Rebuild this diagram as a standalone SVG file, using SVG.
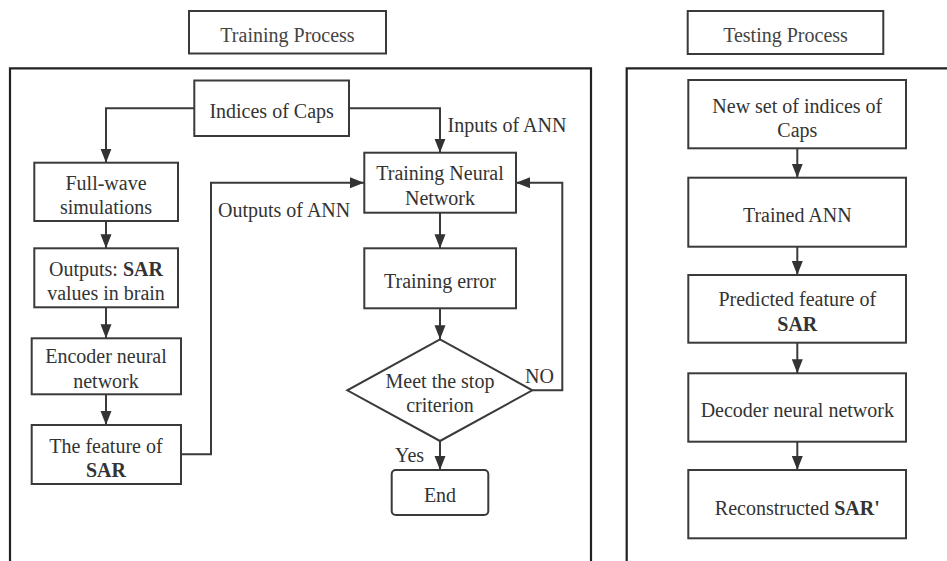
<svg xmlns="http://www.w3.org/2000/svg" width="947" height="561" viewBox="0 0 947 561">
<style>
.box{fill:#fff;stroke:#3a3a3a;stroke-width:2}
.frame{fill:none;stroke:#222;stroke-width:2.2}
.edge{fill:none;stroke:#3a3a3a;stroke-width:2}
</style>
<defs>
<marker id="arr" markerUnits="userSpaceOnUse" markerWidth="14" markerHeight="12" refX="14" refY="5.5" orient="auto">
<path d="M0,0 L14,5.5 L0,11 z" fill="#333"/>
</marker>
</defs>
<rect width="947" height="561" fill="#fff"/>
<g id="frames">
<path class="frame" d="M10,570 V68.3 H591 V570"/>
<path class="frame" d="M626.7,570 V68.3 H960"/>
</g>
<g id="title-training"><rect class="box" x="189" y="11" width="197" height="42.5"/><text font-family="Liberation Serif" font-size="20" fill="#444" text-anchor="middle" x="287.5" y="42">Training Process</text></g>
<g id="title-testing"><rect class="box" x="687.7" y="11" width="195.6" height="43"/><text font-family="Liberation Serif" font-size="20" fill="#444" text-anchor="middle" x="785.5" y="42">Testing Process</text></g>
<g id="connectors">
<path class="edge" d="M194,108.3 H106 V162.7" marker-end="url(#arr)"/>
<path class="edge" d="M349,108.3 H440 V152.7" marker-end="url(#arr)"/>
<path class="edge" d="M106,221 V248.3" marker-end="url(#arr)"/>
<path class="edge" d="M106,307.3 V338.3" marker-end="url(#arr)"/>
<path class="edge" d="M106,394.3 V425" marker-end="url(#arr)"/>
<path class="edge" d="M181,454.3 H211 V182.7 H364" marker-end="url(#arr)"/>
<path class="edge" d="M440,212.7 V248.3" marker-end="url(#arr)"/>
<path class="edge" d="M440,308.3 V339.3" marker-end="url(#arr)"/>
<path class="edge" d="M532.3,390.3 H562.3 V182.7 H516" marker-end="url(#arr)"/>
<path class="edge" d="M440,441 V470" marker-end="url(#arr)"/>
<path class="edge" d="M797.3,148.3 V177.7" marker-end="url(#arr)"/>
<path class="edge" d="M797.3,246.7 V275" marker-end="url(#arr)"/>
<path class="edge" d="M797.3,342.7 V373.3" marker-end="url(#arr)"/>
<path class="edge" d="M797.3,441.7 V470" marker-end="url(#arr)"/>
<text font-family="Liberation Serif" font-size="20" fill="#333" x="447.5" y="131.5">Inputs of ANN</text>
<text font-family="Liberation Serif" font-size="20" fill="#333" x="218" y="217.3">Outputs of ANN</text>
<text font-family="Liberation Serif" font-size="20" fill="#333" x="525" y="383.3">NO</text>
<text font-family="Liberation Serif" font-size="20" fill="#333" x="395" y="461.7">Yes</text>
</g>
<g id="indices"><rect class="box" x="194.3" y="80.5" width="154.7" height="55.5"/><text font-family="Liberation Serif" font-size="20" fill="#333" text-anchor="middle" x="271.6" y="118.3">Indices of Caps</text></g>
<g id="fullwave"><rect class="box" x="34.3" y="162.7" width="143.7" height="58.3"/><text font-family="Liberation Serif" font-size="20" fill="#333" text-anchor="middle" x="106" y="190">Full-wave</text><text font-family="Liberation Serif" font-size="20" fill="#333" text-anchor="middle" x="106" y="214">simulations</text></g>
<g id="outputs"><rect class="box" x="34.3" y="248.3" width="143.7" height="59"/><text font-family="Liberation Serif" font-size="20" fill="#333" text-anchor="middle" x="106" y="276">Outputs: <tspan font-weight="bold">SAR</tspan></text><text font-family="Liberation Serif" font-size="20" fill="#333" text-anchor="middle" x="106" y="300">values in brain</text></g>
<g id="encoder"><rect class="box" x="31.7" y="338.3" width="149.3" height="56"/><text font-family="Liberation Serif" font-size="20" fill="#333" text-anchor="middle" x="106" y="363">Encoder neural</text><text font-family="Liberation Serif" font-size="20" fill="#333" text-anchor="middle" x="106" y="387.5">network</text></g>
<g id="feature"><rect class="box" x="31.7" y="425" width="149.3" height="59"/><text font-family="Liberation Serif" font-size="20" fill="#333" text-anchor="middle" x="106" y="452.7">The feature of</text><text font-family="Liberation Serif" font-size="20" fill="#333" text-anchor="middle" font-weight="bold" x="106" y="476.7">SAR</text></g>
<g id="trainnn"><rect class="box" x="364.3" y="152.7" width="151.7" height="60"/><text font-family="Liberation Serif" font-size="20" fill="#333" text-anchor="middle" x="440" y="180">Training Neural</text><text font-family="Liberation Serif" font-size="20" fill="#333" text-anchor="middle" x="440" y="205">Network</text></g>
<g id="trainerr"><rect class="box" x="364.3" y="248.3" width="151.7" height="60"/><text font-family="Liberation Serif" font-size="20" fill="#333" text-anchor="middle" x="440" y="288.3">Training error</text></g>
<g id="decision"><path class="box" d="M440,339.3 L532.3,390.3 L440,441 L347.3,390.3 z"/><text font-family="Liberation Serif" font-size="20" fill="#333" text-anchor="middle" x="440" y="388.3">Meet the stop</text><text font-family="Liberation Serif" font-size="20" fill="#333" text-anchor="middle" x="440" y="411.7">criterion</text></g>
<g id="end"><rect class="box" x="391.7" y="470" width="96.6" height="45" rx="4"/><text font-family="Liberation Serif" font-size="20" fill="#333" text-anchor="middle" x="440" y="501.7">End</text></g>
<g id="newset"><rect class="box" x="688.3" y="80" width="217.7" height="68.3"/><text font-family="Liberation Serif" font-size="20" fill="#333" text-anchor="middle" x="797.3" y="113.3">New set of indices of</text><text font-family="Liberation Serif" font-size="20" fill="#333" text-anchor="middle" x="797.3" y="137">Caps</text></g>
<g id="trained"><rect class="box" x="688.3" y="177.7" width="217.7" height="69"/><text font-family="Liberation Serif" font-size="20" fill="#333" text-anchor="middle" x="797.3" y="221.7">Trained ANN</text></g>
<g id="predicted"><rect class="box" x="688.3" y="275" width="217.7" height="67.7"/><text font-family="Liberation Serif" font-size="20" fill="#333" text-anchor="middle" x="797.3" y="306">Predicted feature of</text><text font-family="Liberation Serif" font-size="20" fill="#333" text-anchor="middle" font-weight="bold" x="797.3" y="331">SAR</text></g>
<g id="decoder"><rect class="box" x="688.3" y="373.3" width="217.7" height="68.4"/><text font-family="Liberation Serif" font-size="20" fill="#333" text-anchor="middle" x="797.3" y="416.7">Decoder neural network</text></g>
<g id="recon"><rect class="box" x="688.3" y="470" width="217.7" height="68.3"/><text font-family="Liberation Serif" font-size="20" fill="#333" text-anchor="middle" x="797.3" y="515">Reconstructed <tspan font-weight="bold">SAR'</tspan></text></g>
</svg>
